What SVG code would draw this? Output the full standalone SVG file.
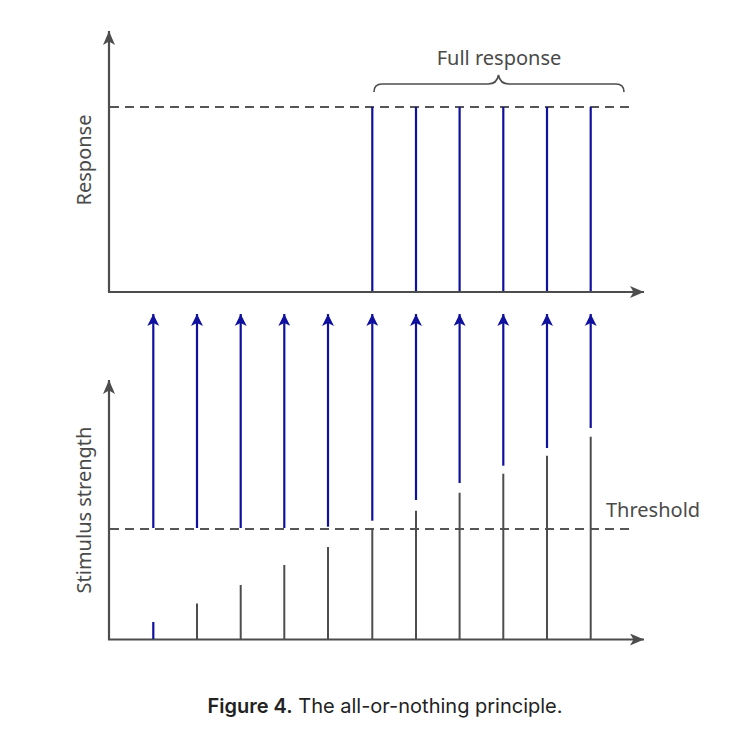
<svg xmlns="http://www.w3.org/2000/svg" width="750" height="730" viewBox="0 0 750 730">
<defs>
<marker id="ah" viewBox="0 0 14 12" refX="14" refY="6" markerWidth="14" markerHeight="12" markerUnits="userSpaceOnUse" orient="auto">
<path d="M0,0 L14,6 L0,12 L3.5,6 Z" fill="#4d4d4d"/>
</marker>
<marker id="bh" viewBox="0 0 12 12" refX="12" refY="6" markerWidth="12" markerHeight="12" markerUnits="userSpaceOnUse" orient="auto">
<path d="M0,0 L12,6 L0,12 L3,6 Z" fill="#10109f"/>
</marker>
<style>
.ax{stroke:#4d4d4d;stroke-width:2.2;fill:none}
.dash{stroke:#555;stroke-width:2;stroke-dasharray:9,6;fill:none}
.gb{stroke:#4d4d4d;stroke-width:2;fill:none}
.bb{stroke:#10109f;stroke-width:2.2;fill:none}
.ba{stroke:#10109f;stroke-width:2.2;fill:none;marker-end:url(#bh)}
.lbl{font-family:"Noto Sans","Open Sans",sans-serif;font-size:20px;fill:#4a4a4a}
.cap{font-family:Inter,"Liberation Sans",sans-serif;font-size:20px;fill:#222}
</style>
</defs>
<rect width="750" height="730" fill="#fff"/>

<g id="top-chart">
<line class="ax" x1="109" y1="292" x2="109" y2="31" marker-end="url(#ah)"/>
<line class="ax" x1="108" y1="292" x2="644" y2="292" marker-end="url(#ah)"/>
<line class="dash" x1="110" y1="107" x2="630" y2="107"/>
<text class="lbl" transform="translate(91,160) rotate(-90)" text-anchor="middle">Response</text>
</g>

<g id="full-response">
<line class="bb" x1="372.3" y1="107" x2="372.3" y2="291"/>
<line class="bb" x1="416" y1="107" x2="416" y2="291"/>
<line class="bb" x1="459.6" y1="107" x2="459.6" y2="291"/>
<line class="bb" x1="503.3" y1="107" x2="503.3" y2="291"/>
<line class="bb" x1="547" y1="107" x2="547" y2="291"/>
<line class="bb" x1="590.7" y1="107" x2="590.7" y2="291"/>
<path d="M374,92 Q374,84 382,84 L488,84 Q497,84 498.5,75 Q500,84 509,84 L616,84 Q624,84 624,92" fill="none" stroke="#4d4d4d" stroke-width="1.6"/>
<text class="lbl" x="499" y="65" text-anchor="middle">Full response</text>
</g>

<g id="bottom-chart">
<line class="ax" x1="109" y1="640" x2="109" y2="380" marker-end="url(#ah)"/>
<line class="ax" x1="108" y1="639.5" x2="644" y2="639.5" marker-end="url(#ah)"/>
<line class="dash" x1="110" y1="529" x2="630" y2="529"/>
<text class="lbl" transform="translate(91,510) rotate(-90)" text-anchor="middle">Stimulus strength</text>
<text class="lbl" x="606" y="517">Threshold</text>
</g>

<g id="stimulus-bars">
<line class="bb" x1="153.3" y1="622" x2="153.3" y2="639"/>
<line class="gb" x1="197" y1="603.5" x2="197" y2="639"/>
<line class="gb" x1="240.7" y1="585" x2="240.7" y2="639"/>
<line class="gb" x1="284.3" y1="565" x2="284.3" y2="639"/>
<line class="gb" x1="328" y1="547" x2="328" y2="639"/>
<line class="gb" x1="372.3" y1="529" x2="372.3" y2="639"/>
<line class="gb" x1="416" y1="510.7" x2="416" y2="639"/>
<line class="gb" x1="459.6" y1="492.7" x2="459.6" y2="639"/>
<line class="gb" x1="503.3" y1="473.7" x2="503.3" y2="639"/>
<line class="gb" x1="547" y1="455.7" x2="547" y2="639"/>
<line class="gb" x1="590.7" y1="436.7" x2="590.7" y2="639"/>
</g>

<g id="connectors">
<line class="ba" x1="153.3" y1="528" x2="153.3" y2="314"/>
<line class="ba" x1="197" y1="528" x2="197" y2="314"/>
<line class="ba" x1="240.7" y1="528" x2="240.7" y2="314"/>
<line class="ba" x1="284.3" y1="528" x2="284.3" y2="314"/>
<line class="ba" x1="328" y1="526.7" x2="328" y2="314"/>
<line class="ba" x1="372.3" y1="520.7" x2="372.3" y2="314"/>
<line class="ba" x1="416" y1="500" x2="416" y2="314"/>
<line class="ba" x1="459.6" y1="483" x2="459.6" y2="314"/>
<line class="ba" x1="503.3" y1="465.7" x2="503.3" y2="314"/>
<line class="ba" x1="547" y1="448" x2="547" y2="314"/>
<line class="ba" x1="590.7" y1="428" x2="590.7" y2="314"/>
</g>

<text class="cap" x="385" y="713" text-anchor="middle"><tspan font-weight="600">Figure 4.</tspan> The all-or-nothing principle.</text>
</svg>
